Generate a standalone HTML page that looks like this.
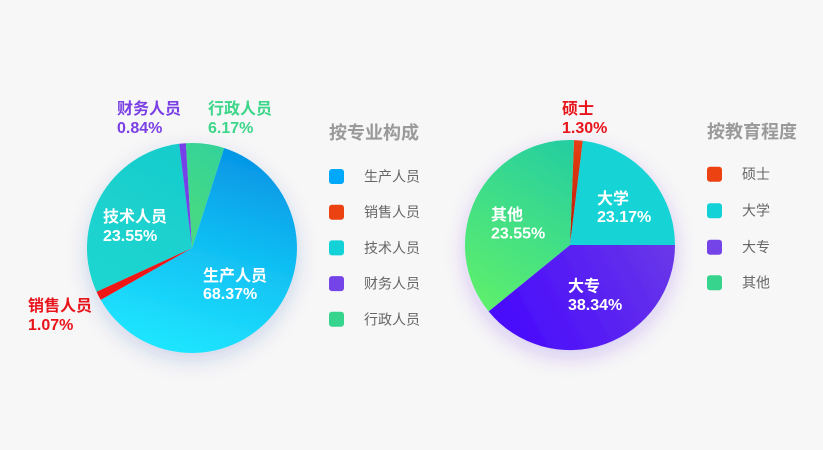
<!DOCTYPE html>
<html>
<head>
<meta charset="utf-8">
<style>
  html,body{margin:0;padding:0;background:#f7f7f7;}
  svg{display:block;}
  .lbl{font-family:"Liberation Sans","Noto Sans CJK SC",sans-serif;font-weight:bold;font-size:16px;}
  .lg{font-family:"Liberation Sans","Noto Sans CJK SC",sans-serif;font-size:14px;fill:#666;}
  .tt{font-family:"Liberation Sans","Noto Sans CJK SC",sans-serif;font-size:18px;font-weight:bold;fill:#9a9a9a;}
</style>
</head>
<body>
<svg width="823" height="450" viewBox="0 0 823 450" xmlns="http://www.w3.org/2000/svg">
  <defs>
    <filter id="shL" x="-30%" y="-30%" width="160%" height="170%">
      <feDropShadow dx="0" dy="7" stdDeviation="10" flood-color="#2a40b0" flood-opacity="0.2"/>
    </filter>
    <filter id="shR" x="-30%" y="-30%" width="160%" height="170%">
      <feDropShadow dx="0" dy="7" stdDeviation="10" flood-color="#5a28e0" flood-opacity="0.22"/>
    </filter>
    <linearGradient id="gProd" gradientUnits="userSpaceOnUse" x1="235" y1="150" x2="175" y2="350">
      <stop offset="0" stop-color="#0595e6"/>
      <stop offset="0.45" stop-color="#10bdf2"/>
      <stop offset="1" stop-color="#1fe5ff"/>
    </linearGradient>
    <linearGradient id="gTech" gradientUnits="userSpaceOnUse" x1="180" y1="145" x2="100" y2="290">
      <stop offset="0" stop-color="#18cccc"/>
      <stop offset="1" stop-color="#1dd6d0"/>
    </linearGradient>
    <linearGradient id="gAdm" gradientUnits="userSpaceOnUse" x1="186" y1="200" x2="225" y2="150">
      <stop offset="0" stop-color="#44d986"/>
      <stop offset="1" stop-color="#33d29a"/>
    </linearGradient>
    <linearGradient id="gMs" gradientUnits="userSpaceOnUse" x1="578" y1="140" x2="572" y2="245">
      <stop offset="0" stop-color="#e64014"/>
      <stop offset="1" stop-color="#b81800"/>
    </linearGradient>
    <linearGradient id="gDz" gradientUnits="userSpaceOnUse" x1="500" y1="340" x2="675" y2="245">
      <stop offset="0" stop-color="#4608fd"/>
      <stop offset="1" stop-color="#6a38e8"/>
    </linearGradient>
    <linearGradient id="gQt" gradientUnits="userSpaceOnUse" x1="475" y1="310" x2="575" y2="150">
      <stop offset="0" stop-color="#60f06a"/>
      <stop offset="1" stop-color="#26cf9f"/>
    </linearGradient>
  </defs>

  <!-- Left pie -->
  <g filter="url(#shL)">
    <path d="M192,248 L224.1,148.0 A105,105 0 1 1 100.7,299.9 Z" fill="url(#gProd)"/>
    <path d="M192,248 L100.7,299.9 A105,105 0 0 1 96.5,291.7 Z" fill="#f01212"/>
    <path d="M192,248 L96.5,291.7 A105,105 0 0 1 179.2,143.8 Z" fill="url(#gTech)"/>
    <path d="M192,248 L179.2,143.8 A105,105 0 0 1 185.95,143.2 Z" fill="#7540e8"/>
    <path d="M192,248 L185.95,143.2 A105,105 0 0 1 224.1,148.0 Z" fill="url(#gAdm)"/>
  </g>

  <!-- Right pie -->
  <g filter="url(#shR)">
    <path d="M570,245 L574,140.1 A105,105 0 0 1 582.8,140.8 Z" fill="url(#gMs)"/>
    <path d="M570,245 L582.8,140.8 A105,105 0 0 1 675,245 Z" fill="#13d3d5"/>
    <path d="M570,245 L675,245 A105,105 0 0 1 488.6,311.4 Z" fill="url(#gDz)"/>
    <path d="M570,245 L488.6,311.4 A105,105 0 0 1 574,140.1 Z" fill="url(#gQt)"/>
  </g>

  <!-- Left labels -->
  <g class="lbl">
    <text x="117" y="114" fill="#7a40e4">财务人员</text>
    <text x="117" y="133" fill="#7a40e4">0.84%</text>
    <text x="208" y="114" fill="#3cd68a">行政人员</text>
    <text x="208" y="133" fill="#3cd68a">6.17%</text>
    <text x="103" y="222" fill="#ffffff">技术人员</text>
    <text x="103" y="241" fill="#ffffff">23.55%</text>
    <text x="203" y="281" fill="#ffffff">生产人员</text>
    <text x="203" y="299" fill="#ffffff">68.37%</text>
    <text x="28" y="311" fill="#e8141c">销售人员</text>
    <text x="28" y="330" fill="#e8141c">1.07%</text>
  </g>

  <!-- Right labels -->
  <g class="lbl">
    <text x="562" y="114" fill="#e8141c">硕士</text>
    <text x="562" y="133" fill="#e8141c">1.30%</text>
    <text x="597" y="204" fill="#ffffff">大学</text>
    <text x="597" y="222" fill="#ffffff">23.17%</text>
    <text x="491" y="220" fill="#ffffff">其他</text>
    <text x="491" y="238.5" fill="#ffffff">23.55%</text>
    <text x="568" y="291.5" fill="#ffffff">大专</text>
    <text x="568" y="310" fill="#ffffff">38.34%</text>
  </g>

  <!-- Left legend -->
  <text class="tt" x="329" y="139">按专业构成</text>
  <rect x="329" y="169" width="15" height="15" rx="3" fill="#00a8fc"/>
  <text class="lg" x="364" y="181.5">生产人员</text>
  <rect x="329" y="204.7" width="15" height="15" rx="3" fill="#ec4212"/>
  <text class="lg" x="364" y="217.2">销售人员</text>
  <rect x="329" y="240.4" width="15" height="15" rx="3" fill="#12d2d8"/>
  <text class="lg" x="364" y="252.9">技术人员</text>
  <rect x="329" y="276.1" width="15" height="15" rx="3" fill="#7444e8"/>
  <text class="lg" x="364" y="288.6">财务人员</text>
  <rect x="329" y="311.8" width="15" height="15" rx="3" fill="#36d48c"/>
  <text class="lg" x="364" y="324.3">行政人员</text>

  <!-- Right legend -->
  <text class="tt" x="707" y="138">按教育程度</text>
  <rect x="707" y="166.7" width="15" height="15" rx="3" fill="#ec4212"/>
  <text class="lg" x="742" y="179.2">硕士</text>
  <rect x="707" y="203.2" width="15" height="15" rx="3" fill="#12d2d8"/>
  <text class="lg" x="742" y="215.7">大学</text>
  <rect x="707" y="239.7" width="15" height="15" rx="3" fill="#7444e8"/>
  <text class="lg" x="742" y="252.2">大专</text>
  <rect x="707" y="275.2" width="15" height="15" rx="3" fill="#36d48c"/>
  <text class="lg" x="742" y="287.7">其他</text>
</svg>
</body>
</html>
